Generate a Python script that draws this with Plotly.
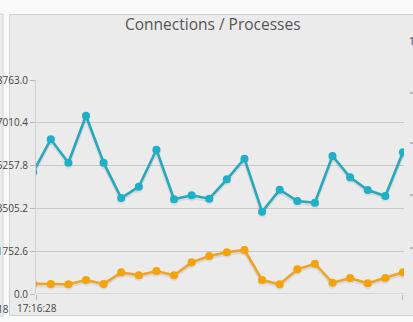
import plotly.graph_objects as go

# ---- data ----
times = ["17:16:27", "17:16:32", "17:16:37", "17:16:42", "17:16:47", "17:16:52",
         "17:16:57", "17:17:02", "17:17:07", "17:17:12", "17:17:17", "17:17:22",
         "17:17:27", "17:17:32", "17:17:37", "17:17:42", "17:17:47", "17:17:52",
         "17:17:57", "17:18:02", "17:18:07", "17:18:12"]
connections = [5000, 6335, 5377, 7301, 5377, 3931, 4394, 5909, 3878, 4041, 3903,
               4697, 5540, 3370, 4271, 3808, 3739, 5651, 4779, 4259, 4013, 5800]
processes = [420, 409, 397, 573, 409, 888, 764, 942, 764, 1297, 1556,
             1707, 1802, 573, 397, 1011, 1241, 463, 655, 438, 655, 888]
y_ticks = [0.0, 1752.6, 3505.2, 5257.8, 7010.4, 8763.0]
y_ticktext = ["0.0", "1752.6", "3505.2", "5257.8", "7010.4", "8763.0"]
x_ticktext = ["17:16:28", "17:18:12"]
title_text = "Connections / Processes"

DAY = "2013-05-14 "
xs = [DAY + t for t in times]

W, H = 413, 322
L, R, T, B = 36, 404, 80, 294  # plot area in pixels

def px_x(p):
    return (p - L) / (R - L)

def px_y(p):
    return (B - p) / (B - T)

TEAL_L, TEAL_M = "#28a8bc", "#1db0c9"
ORNG_L, ORNG_M = "#eea428", "#f5a30c"
PANEL = "#ebebeb"

shadow_dy = 1.6 * y_ticks[-1] / (B - T)

fig = go.Figure()
for vals in (connections, processes):
    fig.add_trace(go.Scatter(
        x=xs, y=[v - shadow_dy for v in vals], mode="lines+markers",
        line=dict(color="rgba(0,0,0,0.07)", width=4),
        marker=dict(color="rgba(0,0,0,0.06)", size=9),
        hoverinfo="skip", showlegend=False))

fig.add_trace(go.Scatter(
    x=xs, y=connections, mode="lines+markers", name="Connections",
    line=dict(color=TEAL_L, width=2.6),
    marker=dict(color=TEAL_M, size=8), showlegend=False))
fig.add_trace(go.Scatter(
    x=xs, y=processes, mode="lines+markers", name="Processes",
    line=dict(color=ORNG_L, width=2.6),
    marker=dict(color=ORNG_M, size=8), showlegend=False))

shapes = [
    # left neighbour panel
    dict(type="rect", xref="paper", yref="paper", layer="below",
         x0=px_x(-5), x1=px_x(3), y0=px_y(316), y1=px_y(14),
         fillcolor=PANEL, line=dict(color="#d2d2d2", width=1)),
    # main panel
    dict(type="rect", xref="paper", yref="paper", layer="below",
         x0=px_x(9.5), x1=px_x(425), y0=px_y(315.5), y1=px_y(14.5),
         fillcolor=PANEL, line=dict(color="#d2d2d2", width=1)),
]
for yy in (93, 143, 195, 248):
    shapes.append(dict(type="line", xref="paper", yref="paper",
                       x0=px_x(410), x1=px_x(413), y0=px_y(yy), y1=px_y(yy),
                       line=dict(color="#8a8a8a", width=1)))

annotations = [
    dict(text=title_text, xref="paper", yref="paper",
         x=px_x(212.5), y=px_y(23.5), xanchor="center", yanchor="middle",
         showarrow=False, font=dict(family="Open Sans", size=15.5, color="#555555")),
    dict(text="17:18:18", xref="paper", yref="paper",
         x=px_x(11), y=px_y(309), xanchor="right", yanchor="middle",
         showarrow=False, font=dict(family="Open Sans", size=10, color="#444444")),
    dict(text="10", xref="paper", yref="paper",
         x=px_x(407), y=px_y(41), xanchor="left", yanchor="middle",
         showarrow=False, font=dict(family="Open Sans", size=10, color="#444444")),
]

fig.update_layout(
    width=W, height=H,
    margin=dict(l=L, r=W - R, t=T, b=H - B, pad=0, autoexpand=False),
    paper_bgcolor="#f9f9f9", plot_bgcolor=PANEL,
    shapes=shapes, annotations=annotations,
    font=dict(family="Open Sans", size=10, color="#444444"),
    xaxis=dict(
        type="date", automargin=False,
        range=[DAY + "17:16:27.8", DAY + "17:18:12.3"],
        tickvals=[DAY + "17:16:28", DAY + "17:18:12"],
        ticktext=x_ticktext,
        showgrid=False, zeroline=False,
        ticks="outside", ticklen=5, tickcolor="#b8b8b8",
        showline=False, fixedrange=True,
    ),
    yaxis=dict(
        automargin=False,
        range=[0, y_ticks[-1]],
        tickvals=y_ticks, ticktext=y_ticktext,
        showgrid=True, gridcolor="#c9c9c9", gridwidth=1,
        zeroline=False,
        ticks="outside", ticklen=5, tickcolor="#b8b8b8",
        showline=True, linecolor="#d0d0d0", linewidth=1,
        fixedrange=True,
    ),
)
fig.add_hline(y=0, line=dict(color="#c9c9c9", width=1), layer="below")

fig.write_html("out.html", config={"displayModeBar": False})
